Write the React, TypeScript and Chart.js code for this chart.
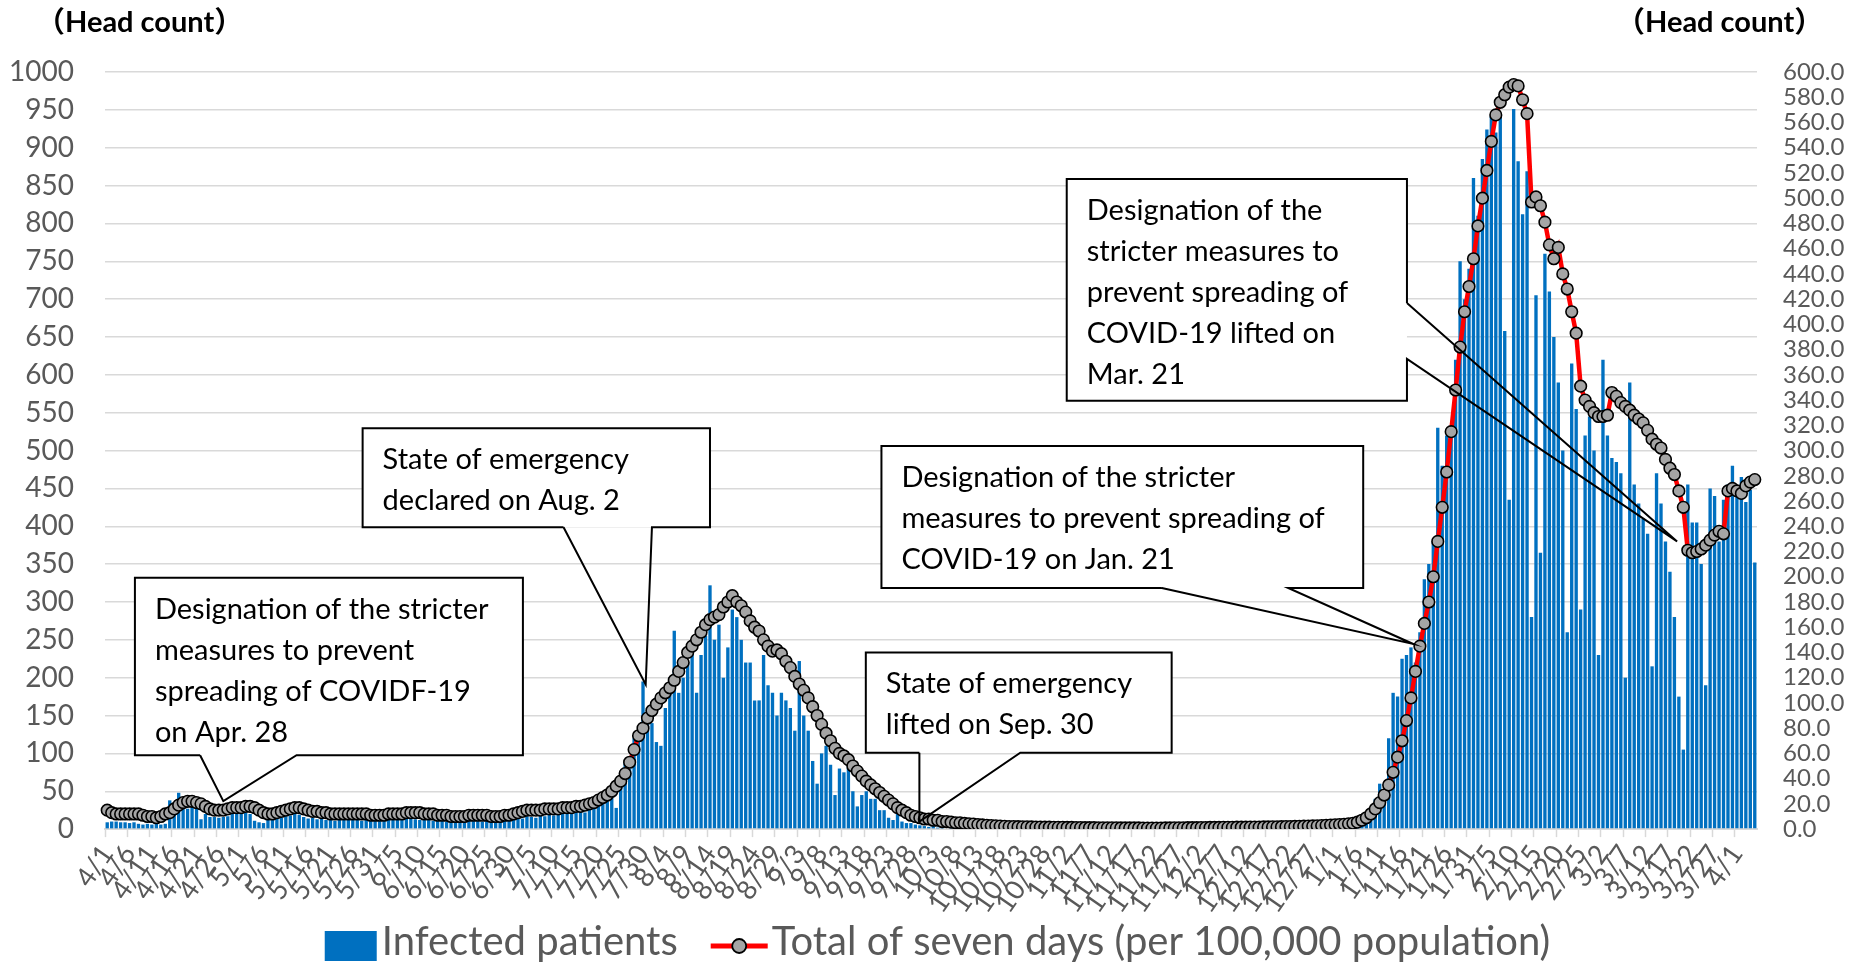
import React, { useEffect, useRef } from "react";
import { Chart, registerables } from "chart.js";

Chart.register(...registerables);

// ---- categories (daily, 2021-04-01 .. 2022-04-05) ----
const START_MONTH = 4;
const MONTH_DAYS = [30, 31, 30, 31, 31, 30, 31, 30, 31, 31, 28, 31, 30];
const DAY_COUNT = 370;

// ---- infected patients per day (left axis) ----
const infectedApr = [9,10,10,9,9,8,9,7,6,7,6,7,6,7,38,22,48,28,27,32,28,13,20,16,16,15,16,17,21,21];
const infectedMay = [21,22,20,11,9,8,14,15,16,15,17,18,20,19,16,14,15,13,14,12,13,11,12,14,13,12,15,11,13,12,14];
const infectedJun = [12,13,14,12,13,14,15,14,13,12,13,12,11,12,11,10,11,10,9,12,11,12,11,10,12,11,10,11,12,13];
const infectedJul = [15,16,14,17,16,15,18,17,19,18,22,20,25,24,28,30,22,33,35,32,40,45,50,28,60,88,80,120,130,195,160];
const infectedAug = [140,115,110,160,200,262,180,200,220,240,180,230,255,322,250,270,200,240,290,280,250,220,220,170,170,230,190,180,150,180,170];
const infectedSep = [160,130,222,150,130,90,60,100,110,85,45,80,75,85,50,30,45,50,40,40,25,25,15,12,20,10,8,8,6,5];
const infectedOct = [4,3,5,2,3,1,4,2,1,3,2,1,0,2,1,1,0,1,2,0,1,1,0,1,0,1,1,0,1,0,1];
const infectedNov = [1,0,1,1,0,2,1,0,1,1,0,1,0,0,1,1,0,1,0,1,1,0,0,1,2,1,0,1,1,0];
const infectedDec = [1,0,1,2,1,0,1,1,2,0,1,1,2,1,0,1,2,1,1,3,2,1,2,3,2,1,3,4,2,3,4];
const infectedJan = [4,3,5,6,4,8,14,20,28,40,60,50,120,180,175,225,230,240,220,260,330,350,380,530,480,520,530,620,750,700,740];
const infectedFeb = [860,810,885,924,942,920,945,658,435,951,882,812,869,280,705,365,760,710,650,590,500,260,615,555,290,520,545,500];
const infectedMar = [230,620,520,490,485,470,200,590,455,430,410,390,215,470,430,380,340,280,175,105,455,405,405,350,190,450,440,380,435,455,480];
const infectedApr22 = [445,465,432,448,352];

// ---- total of seven days per 100,000 population (right axis) ----
const weeklyApr = [15,13,12,12,12,12,12,12,11,10,10,9,10,12,13,16,19,21,22,22,21,20,18,16,15,15,15,16,17,17];
const weeklyMay = [17,18,18,17,15,13,12,12,13,14,15,16,17,17,16,15,14,14,13,13,12,12,12,12,12,12,12,12,12,11,11];
const weeklyJun = [11,11,12,12,12,12,13,13,13,13,12,12,12,11,11,11,10,10,10,10,11,11,11,11,11,10,10,10,11,11];
const weeklyJul = [12,13,14,15,15,15,15,16,16,16,16,17,17,17,18,18,19,20,21,23,25,27,30,34,38,44,53,63,74,80,88];
const weeklyAug = [94,99,104,108,112,118,125,132,140,145,150,156,162,166,168,170,176,180,185,180,177,172,165,160,157,150,145,141,142,139,133];
const weeklySep = [128,121,115,110,104,97,90,83,76,70,64,60,58,55,50,46,42,38,35,32,29,26,23,20,17,15,13,11,10,9];
const weeklyOct = [8,8,7,7,6,6,5.5,5,5,4.5,4.2,4,3.6,3.3,3,2.8,2.6,2.4,2.2,2,2,1.9,1.8,1.8,1.7,1.6,1.6,1.5,1.5,1.4,1.4];
const weeklyNov = [1.4,1.3,1.3,1.2,1.2,1.1,1.1,1.1,1,1,1,1,1,0.9,0.9,0.9,0.9,0.9,0.8,0.8,0.8,0.8,0.8,0.9,0.9,1,1,1,1.1,1.1];
const weeklyDec = [1.1,1.2,1.2,1.3,1.3,1.3,1.4,1.4,1.4,1.5,1.5,1.5,1.6,1.6,1.6,1.7,1.7,1.8,1.8,1.9,2,2,2.1,2.2,2.3,2.4,2.5,2.6,2.8,3,3.2];
const weeklyJan = [3.4,3.6,3.8,4.2,4.6,5.5,7,9,12,16,21,27,35,45,57,70,86,104,125,145,163,180,200,228,255,283,315,348,382,410,430];
const weeklyFeb = [452,478,500,522,545,566,576,582,588,590,589,578,567,497,501,494,481,463,452,461,440,428,410,393,351,340,335,330];
const weeklyMar = [327,327,328,346,343,338,335,332,328,325,322,316,309,305,302,293,286,281,268,255,221,219,220,222,225,229,233,236,234,268,270];
const weeklyApr22 = [268,266,272,275,277];

const infected = [
  ...infectedApr, ...infectedMay, ...infectedJun, ...infectedJul, ...infectedAug, ...infectedSep,
  ...infectedOct, ...infectedNov, ...infectedDec, ...infectedJan, ...infectedFeb, ...infectedMar, ...infectedApr22,
];
const weekly = [
  ...weeklyApr, ...weeklyMay, ...weeklyJun, ...weeklyJul, ...weeklyAug, ...weeklySep,
  ...weeklyOct, ...weeklyNov, ...weeklyDec, ...weeklyJan, ...weeklyFeb, ...weeklyMar, ...weeklyApr22,
];

const labels: string[] = [];
for (let m = 0; m < MONTH_DAYS.length && labels.length < DAY_COUNT; m++) {
  const month = ((START_MONTH - 1 + m) % 12) + 1;
  for (let d = 1; d <= MONTH_DAYS[m] && labels.length < DAY_COUNT; d++) labels.push(`${month}/${d}`);
}

const LABEL_STEP = 5;
const LEFT_MAX = 1000;
const LEFT_STEP = 50;
const RIGHT_MAX = 600;
const RIGHT_STEP = 20;

const SERIES_NAMES = ["Infected patients", "Total of seven days (per 100,000 population)"];
const AXIS_TITLE = "（Head count）";

// callouts: x in day-index units, y in left-axis units
const CALLOUTS = [
  { lines: ["Designation of the stricter", "measures to prevent", "spreading of COVIDF-19", "on Apr. 28"],
    x0: 6.2, x1: 93.1, yTop: 332, yBot: 97.6, side: "bottom", b0: 20.8, b1: 42.4, tipX: 26, tipY: 37 },
  { lines: ["State of emergency", "declared on Aug. 2"],
    x0: 57.2, x1: 135.0, yTop: 529.5, yBot: 398.8, side: "bottom", b0: 102.2, b1: 122.0, tipX: 120.6, tipY: 191 },
  { lines: ["State of emergency", "lifted on Sep. 30"],
    x0: 169.9, x1: 238.4, yTop: 233.4, yBot: 101, side: "bottom", b0: 181.9, b1: 204.5, tipX: 181.9, tipY: 10 },
  { lines: ["Designation of the stricter", "measures to prevent spreading of", "COVID-19 on Jan. 21"],
    x0: 173.4, x1: 281.3, yTop: 506, yBot: 318.5, side: "bottom", b0: 236.2, b1: 264.5, tipX: 292.5, tipY: 244.5 },
  { lines: ["Designation of the", "stricter measures to", "prevent spreading of", "COVID-19 lifted on", "Mar. 21"],
    x0: 214.9, x1: 291.1, yTop: 858.8, yBot: 565.8, side: "right", b0: 695, b1: 621, tipX: 351.6, tipY: 380 },
];

const FONT = "Lato, 'Noto Sans', sans-serif";
const GRAY_TEXT = "#595959";
const GRID = "#d9d9d9";
const BAR_COLOR = "#0070C0";
const LINE_COLOR = "#FF0000";
const MARKER_FILL = "#A5A5A5";

const LEFT_AXIS_WIDTH = 105;
const RIGHT_AXIS_WIDTH = 108;

const overlayPlugin = {
  id: "overlay",
  afterDatasetsDraw(chart: any) {
    const { ctx, scales } = chart;
    const xs = scales.x;
    const ys = scales.y;
    ctx.save();
    for (const c of CALLOUTS) {
      const L = xs.getPixelForValue(c.x0);
      const R = xs.getPixelForValue(c.x1);
      const T = ys.getPixelForValue(c.yTop);
      const B = ys.getPixelForValue(c.yBot);
      const tx = xs.getPixelForValue(c.tipX);
      const ty = ys.getPixelForValue(c.tipY);
      ctx.fillStyle = "#fff";
      ctx.fillRect(L, T, R - L, B - T);
      ctx.beginPath();
      if (c.side === "bottom") {
        const b0 = xs.getPixelForValue(c.b0);
        const b1 = xs.getPixelForValue(c.b1);
        ctx.moveTo(b0, B);
        ctx.lineTo(L, B);
        ctx.lineTo(L, T);
        ctx.lineTo(R, T);
        ctx.lineTo(R, B);
        ctx.lineTo(b1, B);
        ctx.lineTo(tx, ty);
        ctx.lineTo(b0, B);
      } else {
        const b0 = ys.getPixelForValue(c.b0);
        const b1 = ys.getPixelForValue(c.b1);
        ctx.moveTo(R, b0);
        ctx.lineTo(R, T);
        ctx.lineTo(L, T);
        ctx.lineTo(L, B);
        ctx.lineTo(R, B);
        ctx.lineTo(R, b1);
        ctx.lineTo(tx, ty);
        ctx.lineTo(R, b0);
      }
      ctx.lineWidth = 2;
      ctx.strokeStyle = "#000";
      ctx.lineJoin = "miter";
      ctx.stroke();
      ctx.fillStyle = "#000";
      ctx.font = `29px ${FONT}`;
      ctx.textAlign = "left";
      ctx.textBaseline = "alphabetic";
      c.lines.forEach((t, k) => ctx.fillText(t, L + 20, T + 41 + k * 41));
    }
    ctx.restore();
  },
  afterDraw(chart: any) {
    const { ctx, chartArea, width, height } = chart;
    ctx.save();
    // axis titles
    ctx.fillStyle = "#000";
    ctx.font = `bold 29px Lato, 'Noto Sans CJK JP', sans-serif`;
    ctx.textBaseline = "alphabetic";
    ctx.textAlign = "left";
    ctx.fillText(AXIS_TITLE, chartArea.left - 69, chartArea.top - 40);
    ctx.fillText(AXIS_TITLE, chartArea.right - 141, chartArea.top - 40);

    // legend
    ctx.font = `40px ${FONT}`;
    const w1 = ctx.measureText(SERIES_NAMES[0]).width;
    const w2 = ctx.measureText(SERIES_NAMES[1]).width;
    const boxW = 52, gapIcon = 5, gapItems = 33, lineW = 57, gapIcon2 = 4;
    const total = boxW + gapIcon + w1 + gapItems + lineW + gapIcon2 + w2;
    let x = (width - total) / 2 + 5;
    const base = height - 11;
    const midY = base - 9;
    ctx.fillStyle = BAR_COLOR;
    ctx.fillRect(x, midY - 15, boxW, 30);
    x += boxW + gapIcon;
    ctx.fillStyle = GRAY_TEXT;
    ctx.fillText(SERIES_NAMES[0], x, base);
    x += w1 + gapItems;
    ctx.strokeStyle = LINE_COLOR;
    ctx.lineWidth = 5;
    ctx.beginPath();
    ctx.moveTo(x, midY);
    ctx.lineTo(x + lineW, midY);
    ctx.stroke();
    ctx.beginPath();
    ctx.arc(x + lineW / 2, midY, 7, 0, Math.PI * 2);
    ctx.fillStyle = MARKER_FILL;
    ctx.fill();
    ctx.lineWidth = 1.8;
    ctx.strokeStyle = "#000";
    ctx.stroke();
    x += lineW + gapIcon2;
    ctx.fillStyle = GRAY_TEXT;
    ctx.fillText(SERIES_NAMES[1], x, base);
    ctx.restore();
  },
};

export default function App() {
  const canvasRef = useRef<HTMLCanvasElement | null>(null);

  useEffect(() => {
    const canvas = canvasRef.current;
    if (!canvas) return;
    const chart = new Chart(canvas, {
      type: "bar",
      data: {
        labels,
        datasets: [
          {
            type: "bar",
            label: SERIES_NAMES[0],
            data: infected,
            yAxisID: "y",
            backgroundColor: BAR_COLOR,
            barPercentage: 0.75,
            categoryPercentage: 1,
            order: 1,
          },
          {
            type: "line",
            label: SERIES_NAMES[1],
            data: weekly,
            yAxisID: "y1",
            borderColor: LINE_COLOR,
            borderWidth: 4.5,
            pointRadius: 5.8,
            pointBackgroundColor: MARKER_FILL,
            pointBorderColor: "#000",
            pointBorderWidth: 1.6,
            tension: 0,
            order: 0,
          } as any,
        ],
      },
      options: {
        responsive: false,
        animation: false,
        events: [],
        layout: { padding: { left: 0, right: 0, top: 72, bottom: 45 } },
        plugins: {
          legend: { display: false },
          tooltip: { enabled: false },
          title: { display: false },
        },
        scales: {
          x: {
            offset: true,
            afterFit: (scale: any) => {
              scale.paddingLeft = 0;
              scale.paddingRight = 0;
            },
            grid: {
              offset: true,
              drawOnChartArea: false,
              drawTicks: true,
              tickLength: 8,
              tickWidth: 1.5,
              tickColor: (ctx: any) => (ctx.index % LABEL_STEP === 0 ? GRID : "rgba(0,0,0,0)"),
            },
            border: { display: true, color: GRID, width: 2 },
            ticks: {
              autoSkip: false,
              minRotation: 55,
              maxRotation: 55,
              padding: 2,
              color: GRAY_TEXT,
              font: { family: FONT, size: 27 },
              callback: function (this: any, value: any, index: number) {
                return index % LABEL_STEP === 0 ? this.getLabelForValue(value) : "";
              },
            },
          },
          y: {
            position: "left",
            min: 0,
            max: LEFT_MAX,
            afterFit: (scale: any) => {
              scale.width = LEFT_AXIS_WIDTH;
            },
            grid: { color: GRID, lineWidth: 1.5, drawTicks: false },
            border: { display: false },
            ticks: {
              stepSize: LEFT_STEP,
              autoSkip: false,
              maxTicksLimit: 100,
              padding: 31,
              color: GRAY_TEXT,
              font: { family: FONT, size: 28, lineHeight: 1 },
              callback: (v: any) => String(v),
            },
          },
          y1: {
            position: "right",
            min: 0,
            max: RIGHT_MAX,
            afterFit: (scale: any) => {
              scale.width = RIGHT_AXIS_WIDTH;
            },
            grid: { drawOnChartArea: false, drawTicks: false },
            border: { display: false },
            ticks: {
              stepSize: RIGHT_STEP,
              autoSkip: false,
              maxTicksLimit: 100,
              padding: 26,
              color: GRAY_TEXT,
              font: { family: FONT, size: 24, lineHeight: 1 },
              callback: (v: any) => Number(v).toFixed(1),
            },
          },
        },
      },
      plugins: [overlayPlugin],
    });
    return () => chart.destroy();
  }, []);

  return (
    <div style={{ position: "fixed", left: 0, top: 0, width: 1865, height: 966, background: "#fff" }}>
      <canvas ref={canvasRef} width={1865} height={966} />
    </div>
  );
}
